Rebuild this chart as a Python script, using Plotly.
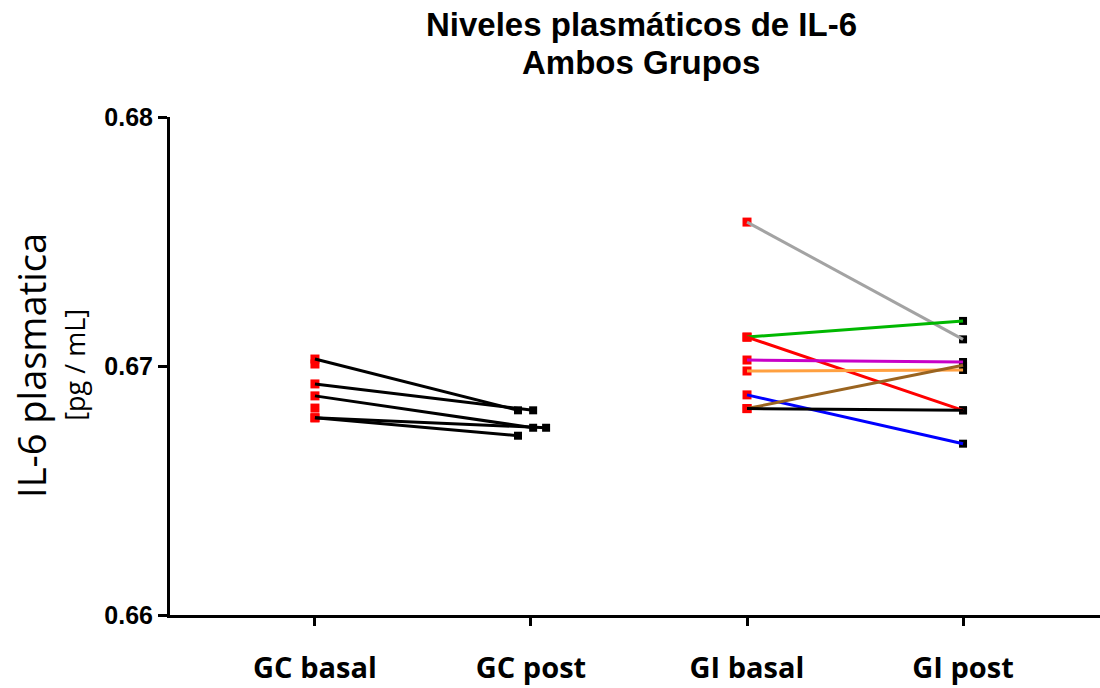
import plotly.graph_objects as go

# Plasma IL-6 levels, before/after, for both groups
categories = ["GC basal", "GC post", "GI basal", "GI post"]
y_ticks = [0.66, 0.67, 0.68]

# Control group (GC): paired basal / post values (None = no post value)
gc_basal = [0.67028, 0.67008, 0.66928, 0.66880, 0.66831, 0.66792, 0.66792]
gc_post = [0.66822, None, 0.66822, 0.66752, None, 0.66752, 0.66720]

# Intervention group (GI): paired basal / post values
gi_basal = [0.67578, 0.67116, 0.67116, 0.67024, 0.66980, 0.66884, 0.66829, 0.66829]
gi_post = [0.67107, 0.67181, 0.66822, 0.67016, 0.66984, 0.66688, 0.67003, 0.66822]

# styling
gc_post_shift = [-0.06, 0.0, 0.01, 0.01, 0.0, 0.07, -0.06]
gi_colors = ["#a3a3a3", "#00b800", "#ff0000", "#c800c8", "#ffa040",
             "#0000ff", "#9a6420", "#000000"]

fig = go.Figure()

# basal markers (red) and post markers (black)
fig.add_trace(go.Scatter(
    x=[0] * len(gc_basal) + [2] * len(gi_basal),
    y=gc_basal + gi_basal,
    mode="markers",
    marker=dict(symbol="square", size=9, color="#ff0000"),
    showlegend=False, hoverinfo="skip"))

post_x = [1 + s for s, v in zip(gc_post_shift, gc_post) if v is not None] + [3] * len(gi_post)
post_y = [v for v in gc_post if v is not None] + gi_post
fig.add_trace(go.Scatter(
    x=post_x, y=post_y, mode="markers",
    marker=dict(symbol="square", size=8, color="#000000"),
    showlegend=False, hoverinfo="skip"))

# connecting lines, GC
for b, p, s in zip(gc_basal, gc_post, gc_post_shift):
    if p is None:
        continue
    fig.add_trace(go.Scatter(
        x=[0, 1 + s], y=[b, p], mode="lines",
        line=dict(color="#000000", width=3),
        showlegend=False, hoverinfo="skip"))

# connecting lines, GI
for b, p, c in zip(gi_basal, gi_post, gi_colors):
    fig.add_trace(go.Scatter(
        x=[2, 3], y=[b, p], mode="lines",
        line=dict(color=c, width=3),
        showlegend=False, hoverinfo="skip"))

fig.update_xaxes(
    range=[-0.671, 3.634], automargin=False,
    tickmode="array", tickvals=list(range(len(categories))), ticktext=categories,
    showline=True, linecolor="#000000", linewidth=3,
    ticks="outside", ticklen=8, tickwidth=3, tickcolor="#000000",
    ticklabelstandoff=17,
    tickfont=dict(family="Open Sans", size=29, color="#000000", weight="bold"),
    showgrid=False, zeroline=False)

fig.update_yaxes(
    range=[0.66, 0.68], automargin=False,
    tickmode="array", tickvals=y_ticks, ticktext=[f"{v:.2f}" for v in y_ticks],
    showline=True, linecolor="#000000", linewidth=3,
    ticks="outside", ticklen=9, tickwidth=3, tickcolor="#000000",
    tickfont=dict(family="Liberation Sans", size=25, color="#000000", weight="bold"),
    showgrid=False, zeroline=False)

fig.update_layout(
    width=1100, height=688,
    margin=dict(l=170, r=0, t=117, b=73, autoexpand=False),
    paper_bgcolor="#ffffff", plot_bgcolor="#ffffff",
    annotations=[
        dict(text="<b>Niveles plasmáticos de IL-6</b>", xref="paper", yref="paper",
             x=0.5065, y=1.186, xanchor="center", yanchor="middle", showarrow=False,
             font=dict(family="Liberation Sans", size=33, color="#000000")),
        dict(text="<b>Ambos Grupos</b>", xref="paper", yref="paper",
             x=0.5065, y=1.110, xanchor="center", yanchor="middle", showarrow=False,
             font=dict(family="Liberation Sans", size=33, color="#000000")),
        dict(text="IL-6 plasmatica", xref="paper", yref="paper",
             x=-0.1495, y=0.502, xanchor="center", yanchor="middle", showarrow=False,
             textangle=-90,
             font=dict(family="Open Sans", size=38, color="#000000")),
        dict(text="[pg / mL]", xref="paper", yref="paper",
             x=-0.1035, y=0.502, xanchor="center", yanchor="middle", showarrow=False,
             textangle=-90,
             font=dict(family="Open Sans", size=27, color="#000000")),
    ],
)

fig.write_html("out.html")
